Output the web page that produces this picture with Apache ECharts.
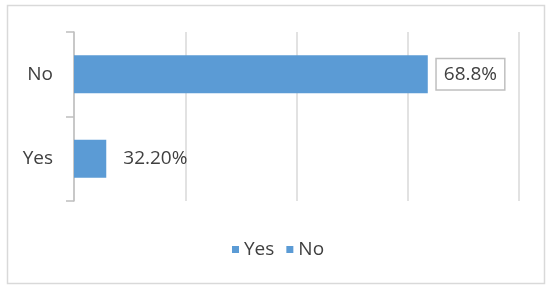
<!DOCTYPE html>
<html>
<head>
<meta charset="utf-8">
<script src="https://cdn.jsdelivr.net/npm/echarts@6/dist/echarts.min.js"></script>
<style>
  html, body { margin: 0; padding: 0; background: #fff; }
  #chart { width: 550px; height: 291px; }
</style>
</head>
<body>
<div id="chart"></div>
<script>
// categories bottom -> top (category axis on y starts at the bottom)
var categories = ["Yes", "No"];
var seriesNames = ["Yes", "No"];
// bar lengths (axis 0..80, step 20)
var yesValues = [5.8, "-"];
var noValues = ["-", 63.6];
// data label text as printed on the chart
var yesLabel = "32.20%";
var noLabel = "68.8%";
var axisTicks = [0, 20, 40, 60, 80];

var barColor = "#5b9bd5";
var textColor = "#404040";
var fontFamily = "'Open Sans', sans-serif";
var fontSize = 19;

var chart = echarts.init(document.getElementById("chart"), null, { renderer: "canvas" });

var option = {
  animation: false,
  backgroundColor: "#fff",
  graphic: [
    {
      type: "rect",
      shape: { x: 7.5, y: 5.5, width: 537, height: 278 },
      style: { fill: "none", stroke: "#d9d9d9", lineWidth: 1.5 },
      silent: true
    }
  ],
  legend: {
    data: seriesNames,
    left: 232,
    top: 240,
    padding: 0,
    icon: "rect",
    itemWidth: 7,
    itemHeight: 7,
    itemGap: 12,
    textStyle: { fontSize: fontSize, color: textColor, fontFamily: fontFamily }
  },
  grid: { left: 74, right: 31, top: 32, bottom: 90 },
  xAxis: {
    type: "value",
    min: axisTicks[0],
    max: axisTicks[axisTicks.length - 1],
    interval: axisTicks[1] - axisTicks[0],
    axisLine: { show: false },
    axisTick: { show: false },
    axisLabel: { show: false },
    splitLine: { show: true, lineStyle: { color: "#d9d9d9", width: 1.5 } }
  },
  yAxis: {
    type: "category",
    data: categories,
    axisLine: { show: true, lineStyle: { color: "#bfbfbf", width: 1.5 } },
    axisTick: { show: true, length: 8, lineStyle: { color: "#bfbfbf", width: 1.5 } },
    axisLabel: { fontSize: fontSize, color: textColor, fontFamily: fontFamily, margin: 21 }
  },
  series: [
    {
      name: seriesNames[0],
      type: "bar",
      stack: "total",
      barWidth: 38,
      itemStyle: { color: barColor },
      label: {
        show: true,
        position: "right",
        distance: 17,
        fontSize: fontSize,
        color: textColor,
        fontFamily: fontFamily,
        formatter: function () { return yesLabel; }
      },
      data: yesValues
    },
    {
      name: seriesNames[1],
      type: "bar",
      stack: "total",
      barWidth: 38,
      itemStyle: { color: barColor },
      label: {
        show: true,
        position: "right",
        distance: 9,
        fontSize: fontSize,
        color: textColor,
        fontFamily: fontFamily,
        borderColor: "#bfbfbf",
        borderWidth: 1.5,
        backgroundColor: "#fff",
        padding: [6, 7, 5, 7],
        formatter: function () { return noLabel; }
      },
      data: noValues
    }
  ]
};

chart.setOption(option);
</script>
</body>
</html>
